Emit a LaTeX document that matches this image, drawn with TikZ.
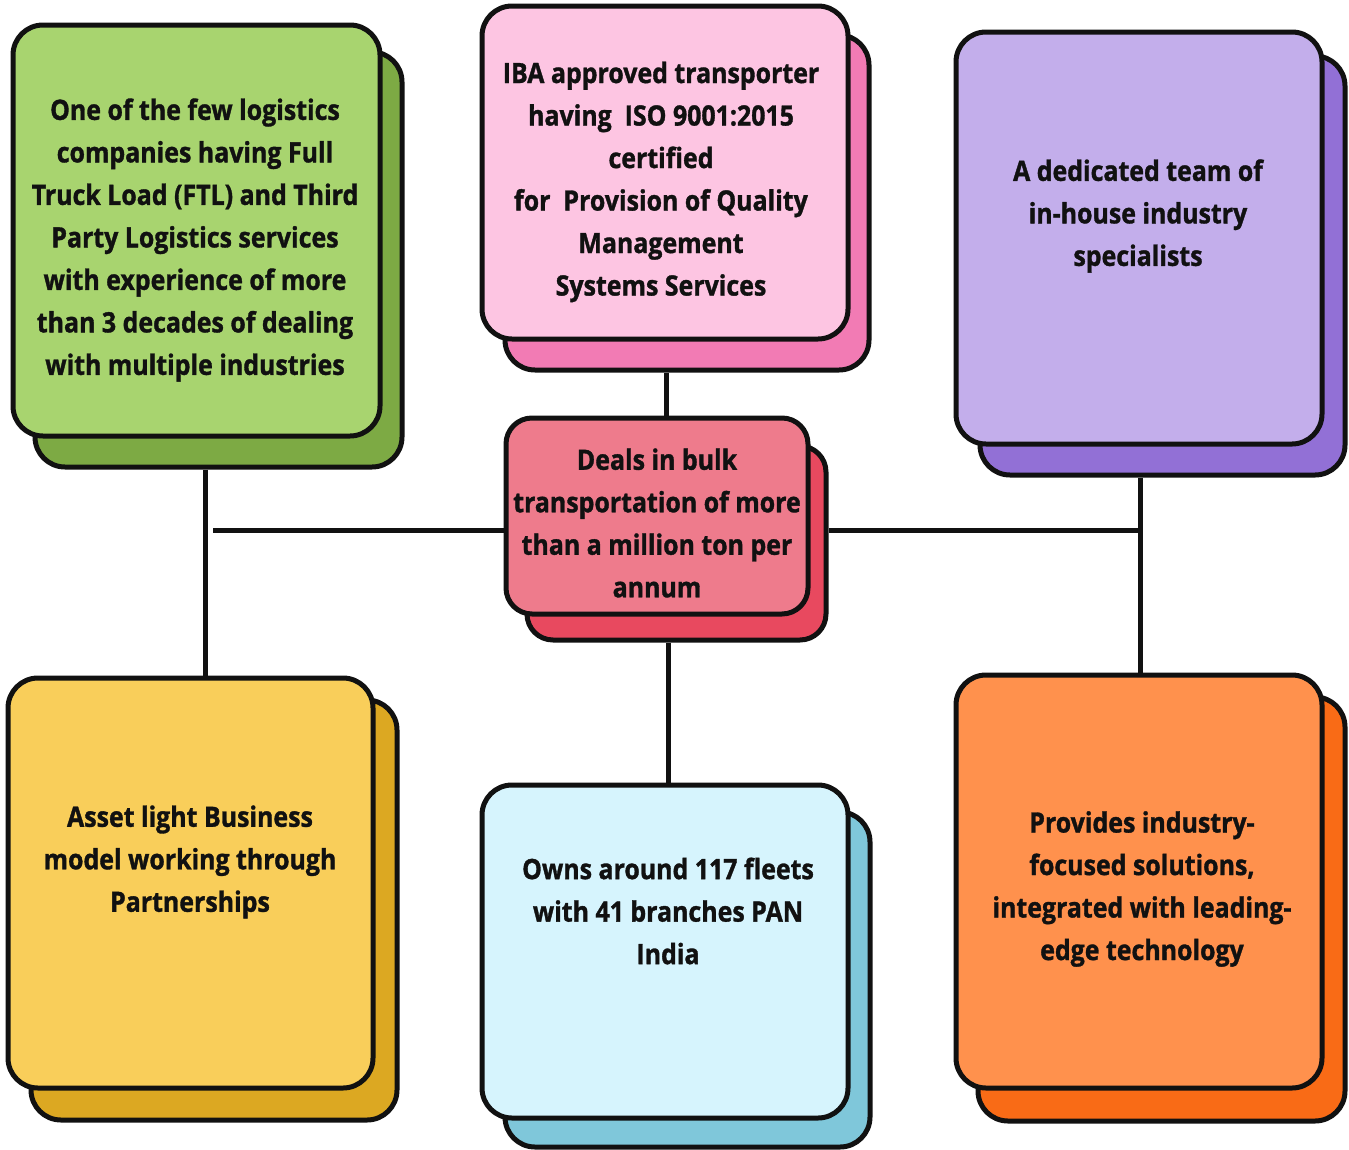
\documentclass[tikz,border=0pt]{standalone}
\usepackage{fontspec}
\setmainfont{Open Sans}[FakeStretch=0.89, BoldFeatures={FakeBold=1.2}]
\definecolor{gF}{HTML}{A8D46F}\definecolor{gS}{HTML}{7DAA44}
\definecolor{pF}{HTML}{FDC5E2}\definecolor{pS}{HTML}{F27BB4}
\definecolor{vF}{HTML}{C3AEEB}\definecolor{vS}{HTML}{9270D6}
\definecolor{rF}{HTML}{EE7B8C}\definecolor{rS}{HTML}{E8495F}
\definecolor{yF}{HTML}{F9CE5A}\definecolor{yS}{HTML}{DCA822}
\definecolor{cF}{HTML}{D6F4FD}\definecolor{cS}{HTML}{7FC7DA}
\definecolor{oF}{HTML}{FF914D}\definecolor{oS}{HTML}{F96B16}
\definecolor{ink}{HTML}{111111}
\tikzset{
  card/.style={draw=ink, line width=5pt, rounded corners=30pt, inner sep=0pt},
  txt/.style={align=center, inner sep=0pt, text=ink, font=\fontsize{28}{42.5}\selectfont\bfseries},
  link/.style={draw=ink, line width=5pt}
}
\begin{document}
\begin{tikzpicture}[x=1pt,y=-1pt]
\useasboundingbox[fill=white] (0,0) rectangle (1349,1149);
% shadows
\node[card, fill=gS, minimum width=367pt, minimum height=415pt] (gs) at (218.5,259.5) {};
\node[card, fill=pS, minimum width=364pt, minimum height=335pt] (ps) at (687,202.5) {};
\node[card, fill=vS, minimum width=365pt, minimum height=419pt] (vs) at (1162.5,265.5) {};
\node[card, fill=rS, rounded corners=26pt, minimum width=299pt, minimum height=194pt] (rs) at (676.5,543) {};
\node[card, fill=yS, minimum width=366pt, minimum height=420pt] (ys) at (214,910) {};
\node[card, fill=cS, minimum width=365pt, minimum height=335pt] (cs) at (687.5,979.5) {};
\node[card, fill=oS, minimum width=367pt, minimum height=424pt] (os) at (1161.5,909) {};
% fronts
\node[card, fill=gF, minimum width=367pt, minimum height=411pt] (gf) at (196.5,230.5) {};
\node[card, fill=pF, minimum width=366pt, minimum height=333pt] (pf) at (665,172.5) {};
\node[card, fill=vF, minimum width=366pt, minimum height=412pt] (vf) at (1139,238) {};
\node[card, fill=rF, rounded corners=26pt, minimum width=302pt, minimum height=196pt] (rf) at (657,516) {};
\node[card, fill=yF, minimum width=365pt, minimum height=410pt] (yf) at (190.5,883) {};
\node[card, fill=cF, minimum width=366pt, minimum height=333pt] (cf) at (665,951.5) {};
\node[card, fill=oF, minimum width=366pt, minimum height=413pt] (of) at (1139,881.5) {};
% texts
\node[txt] (gt) at (195,240) {One of the few logistics\\companies having Full\\Truck Load (FTL) and Third\\Party Logistics services\\with experience of more\\than 3 decades of dealing\\with multiple industries};
\node[txt] (pt) at (661,182) {IBA approved transporter\\having~~ISO 9001:2015\\certified\\for~~Provision of Quality\\Management\\Systems Services};
\node[txt] (vt) at (1138,216) {A dedicated team of\\in-house industry\\specialists};
\node[txt] (rt) at (657,523) {Deals in bulk\\transportation of more\\than a million ton per\\annum};
\node[txt] (yt) at (190,862) {Asset light Business\\model working through\\Partnerships};
\node[txt] (ct) at (668,911) {Owns around 117 fleets\\with 41 branches PAN\\India};
\node[txt] (ot) at (1142,889) {Provides industry-\\focused solutions,\\integrated with leading-\\edge technology};
% connector guides
\coordinate (lj) at (205,530);
\coordinate (hl) at (213,530);
\coordinate (rj) at (1140,530);
\coordinate (pr) at (666,0);
\coordinate (rc) at (668,0);
% connectors
\draw[link] (gs.south -| lj) -- (yf.north -| lj);
\draw[link] (hl) -- (rf.west |- hl);
\draw[link] (rs.east |- rj) -- (rj);
\draw[link] (vs.south -| rj) -- (of.north -| rj);
\draw[link] (ps.south -| pr) -- (rf.north -| pr);
\draw[link] (rs.south -| rc) -- (cf.north -| rc);
\end{tikzpicture}
\end{document}
